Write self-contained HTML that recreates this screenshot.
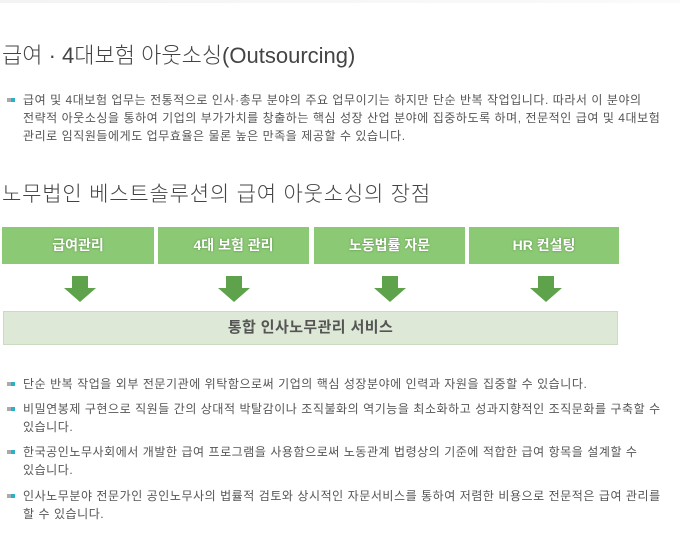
<!DOCTYPE html>
<html><head><meta charset="utf-8"><style>
body{margin:0;width:680px;height:555px;background:#fff;position:relative;overflow:hidden;font-family:"Liberation Sans","Noto Sans CJK KR","NanumGothic",sans-serif;color:#555}
.a{position:absolute;white-space:nowrap}
h1,h2{margin:0;font-weight:300;color:#444;position:absolute;white-space:nowrap;left:2px}
.t{font-size:12px;left:23px;position:absolute;white-space:nowrap;letter-spacing:0.55px}
.b{position:absolute;left:7px;width:8px;height:4px;background:linear-gradient(90deg,#aaa 0 50%,#2ab0c9 50%)}
.g{position:absolute;top:227px;height:37px;background:#8bc974;color:#fff;font-size:14px;font-weight:bold;text-align:center;line-height:37px;text-shadow:0 0 2px #5a8a4a}
.ar{position:absolute;top:276px;width:0;height:0}
.ar i{position:absolute;left:-8px;top:0;width:16px;height:12px;background:#5ea24b}
.ar b{position:absolute;left:-16px;top:12px;border-left:16px solid transparent;border-right:16px solid transparent;border-top:14px solid #5ea24b}
</style></head><body>
<div class="a" style="left:0;top:0;width:680px;height:3px;background:linear-gradient(90deg,#f3f3f3,#fafafa)"></div>
<h1 style="top:38px;font-size:22px">급여 · 4대보험 아웃소싱(Outsourcing)</h1>
<div class="b" style="top:98px"></div>
<div class="t" style="top:91px">급여 및 4대보험 업무는 전통적으로 인사·총무 분야의 주요 업무이기는 하지만 단순 반복 작업입니다. 따라서 이 분야의</div>
<div class="t" style="top:109px">전략적 아웃소싱을 통하여 기업의 부가가치를 창출하는 핵심 성장 산업 분야에 집중하도록 하며, 전문적인 급여 및 4대보험</div>
<div class="t" style="top:127px">관리로 임직원들에게도 업무효율은 물론 높은 만족을 제공할 수 있습니다.</div>
<h2 style="top:178px;font-size:21px;letter-spacing:0.8px">노무법인 베스트솔루션의 급여 아웃소싱의 장점</h2>
<div class="g" style="left:2px;width:152px">급여관리</div>
<div class="g" style="left:158px;width:151px">4대 보험 관리</div>
<div class="g" style="left:314px;width:151px">노동법률 자문</div>
<div class="g" style="left:469px;width:150px">HR 컨설팅</div>
<div class="ar" style="left:80px"><i></i><b></b></div>
<div class="ar" style="left:234px"><i></i><b></b></div>
<div class="ar" style="left:390px"><i></i><b></b></div>
<div class="ar" style="left:546px"><i></i><b></b></div>
<div class="a" style="left:3px;top:311px;width:613px;height:32px;background:#dde8d6;border:1px solid #c9dbc0;text-align:center;line-height:32px;font-size:15px;font-weight:bold;letter-spacing:0.4px;color:#555">통합 인사노무관리 서비스</div>
<div class="b" style="top:382px"></div>
<div class="t" style="top:375px">단순 반복 작업을 외부 전문기관에 위탁함으로써 기업의 핵심 성장분야에 인력과 자원을 집중할 수 있습니다.</div>
<div class="b" style="top:407px"></div>
<div class="t" style="top:400px">비밀연봉제 구현으로 직원들 간의 상대적 박탈감이나 조직불화의 역기능을 최소화하고 성과지향적인 조직문화를 구축할 수</div>
<div class="t" style="top:418px">있습니다.</div>
<div class="b" style="top:450px"></div>
<div class="t" style="top:443px">한국공인노무사회에서 개발한 급여 프로그램을 사용함으로써 노동관계 법령상의 기준에 적합한 급여 항목을 설계할 수</div>
<div class="t" style="top:461px">있습니다.</div>
<div class="b" style="top:494px"></div>
<div class="t" style="top:487px">인사노무분야 전문가인 공인노무사의 법률적 검토와 상시적인 자문서비스를 통하여 저렴한 비용으로 전문적은 급여 관리를</div>
<div class="t" style="top:505px">할 수 있습니다.</div>
</body></html>
